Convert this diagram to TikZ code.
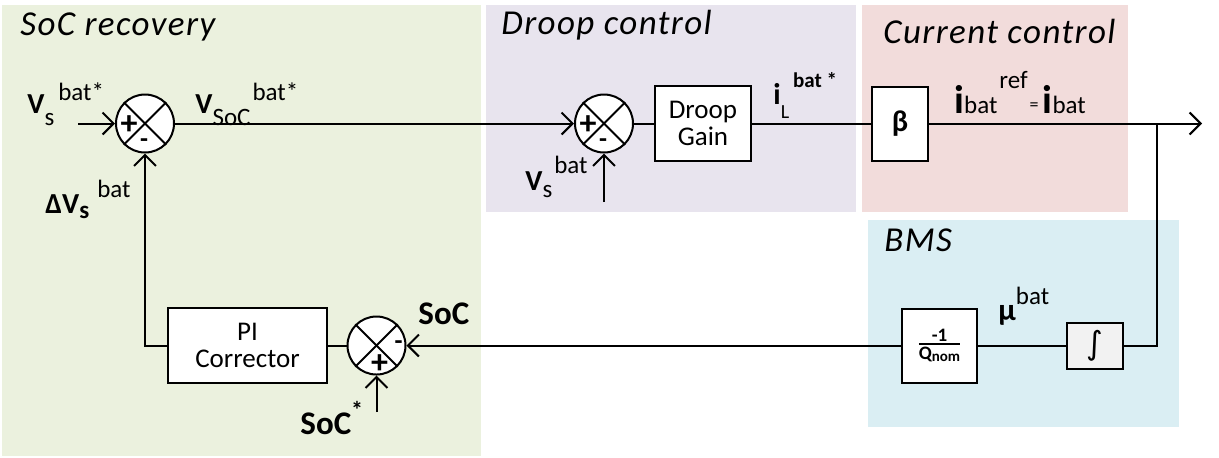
\documentclass[tikz,border=0pt]{standalone}
\usepackage{amsmath}
\usepackage{fontspec}
\setmainfont{Carlito}
\newfontfamily\djv{DejaVu Sans}
\usetikzlibrary{arrows.meta,calc}
\definecolor{gSoC}{HTML}{EBF1DE}
\definecolor{gDroop}{HTML}{E8E4EE}
\definecolor{gCur}{HTML}{F2DCDB}
\definecolor{gBMS}{HTML}{DAEEF3}
\definecolor{gInt}{HTML}{F2F2F2}
\newcommand\fs[1]{\fontsize{#1}{#1}\selectfont}
\newcommand\rb[2]{\raisebox{#1}{#2}}
\begin{document}
\begin{tikzpicture}[x=0.5pt,y=-0.5pt,
  conn/.style={line width=1pt},
  arr/.style={conn,-{Straight Barb[length=5.5pt,width=11pt,line width=1pt]}},
  blk/.style={draw,line width=1pt,fill=white,inner sep=0pt,align=center,font=\fs{13.5}},
  sumj/.style={circle,draw,line width=1pt,fill=white,minimum size=29pt,inner sep=0pt},
  ttl/.style={anchor=base west,inner sep=0pt,font=\fs{17.5}\itshape\addfontfeature{LetterSpace=4}},
  lbl/.style={anchor=base west,inner sep=0pt},
  sgnp/.style={inner sep=0pt,font=\bfseries\fs{17}},
  sgnm/.style={inner sep=0pt,font=\bfseries\fs{13}}
]
\useasboundingbox (0,0) rectangle (1219,457);
% regions
\fill[gSoC] (2,5) rectangle (481,456);
\fill[gDroop] (486,5) rectangle (856,212);
\fill[gCur] (862,5) rectangle (1128,212);
\fill[gBMS] (868,220) rectangle (1179,427);
% titles
\node[ttl] (tSoC) at (20,35) {SoC recovery};
\node[ttl] (tDroop) at (501,34) {Droop control};
\node[ttl] (tCur) at (883,43) {Current control};
\node[ttl] (tBMS) at (884,251) {BMS};
% blocks
\node[sumj] (s1) at (145,123.5) {};
\node[sumj] (s2) at (604,123.5) {};
\node[sumj] (s3) at (376.5,345.5) {};
\foreach \s in {s1,s2,s3}{
  \draw[line width=1pt] (\s.45) -- (\s.225);
  \draw[line width=1pt] (\s.135) -- (\s.315);
}
\node[blk,minimum width=48pt,minimum height=37.5pt] (dg) at (703,123.5) {Droop\\Gain};
\node[blk,minimum width=28pt,minimum height=37pt,font=\fs{15}\bfseries] (beta) at (900,123.5) {β};
\node[blk,minimum width=79.5pt,minimum height=37.5pt] (pi) at (247.5,345.5) {PI\\Corrector};
\node[blk,minimum width=37.5pt,minimum height=37pt,font=\fs{9.5}\bfseries] (qn) at (939.5,345.5)
  {$\genfrac{}{}{1pt}{}{\mbox{\bfseries -1}}{\mbox{\bfseries Q\rb{-1pt}{\fs{7.5}nom}}}$};
\node[blk,fill=gInt,minimum width=28pt,minimum height=23pt,font=\djv\fs{16}] (int) at (1095,345.5) {∫};
% signs
\node[sgnp] (p1) at ($(s1)+(-16,2)$) {+};
\node[sgnm] (m1) at ($(s1)+(-1,20)$) {-};
\node[sgnp] (p2) at ($(s2)+(-16,2)$) {+};
\node[sgnm] (m2) at ($(s2)+(-1,20)$) {-};
\node[sgnm] (m3) at ($(s3)+(22,0)$) {-};
\node[sgnp] (p3) at ($(s3)+(3,19)$) {+};
% coordinates
\coordinate (in1) at (78,123.5);
\coordinate (in2) at (604,202);
\coordinate (in3) at (376.5,412);
\coordinate (j) at (1157,123.5);
\coordinate (out) at (1202,123.5);
% connectors
\draw[arr] (in1) -- (s1.west);
\draw[arr] (s1.east) -- (s2.west);
\draw[arr] (in2) -- (s2.south);
\draw[conn] (s2.east) -- (dg.west);
\draw[conn] (dg.east) -- (beta.west);
\draw[arr] (beta.east) -- (out);
\draw[conn] (j) |- (int.east);
\draw[conn] (int.west) -- (qn.east);
\draw[arr] (qn.west) -- (s3.east);
\draw[arr] (in3) -- (s3.south);
\draw[conn] (s3.west) -- (pi.east);
\draw[arr] (pi.west) -| (s1.south);
% labels
\node[lbl] (lVs) at (27,113) {\fs{14.5}\bfseries V\rb{-6pt}{\mdseries\fs{12.5}s}\hspace{2pt}\rb{6.5pt}{\mdseries\fs{12.5}bat*}};
\node[lbl] (lVsoc) at (195,113) {\fs{14.5}\bfseries V\rb{-6pt}{\mdseries\fs{12.5}SoC}\hspace{1pt}\rb{6.5pt}{\mdseries\fs{12.5}bat*}};
\node[lbl] (lDV) at (45,213) {\fs{14.5}\bfseries ΔV\rb{-2.5pt}{\fs{12.5}s}\hspace{4pt}\rb{8pt}{\mdseries\fs{12.5}bat}};
\node[lbl] (lVs2) at (525,190) {\fs{14.5}\bfseries V\rb{-3.5pt}{\mdseries\fs{12.5}s}\hspace{1pt}\rb{8.5pt}{\mdseries\fs{12.5}bat}};
\node[lbl] (liL) at (773,104) {\fs{15}\bfseries i\rb{-7pt}{\mdseries\fs{10}L}\hspace{2pt}\rb{8.5pt}{\fs{10.5}bat *}};
\node[lbl] (libat) at (954,113) {\fs{20}\bfseries i{\mdseries\fs{12.5}bat}\hspace{1pt}\rb{12.5pt}{\mdseries\fs{12.5}ref}\hspace{1pt}\rb{1.3pt}{\mdseries\fs{9}=}\hspace{2pt}i{\mdseries\fs{12.5}bat}};
\node[lbl] (lmu) at (998,320) {\fs{15.5}\bfseries μ\rb{8pt}{\mdseries\fs{12.5}bat}};
\node[lbl] (lSoC) at (418,324) {\fs{16.5}\bfseries SoC};
\node[lbl] (lSoCs) at (300,434) {\fs{16.5}\bfseries SoC\rb{8pt}{\fs{12}*}};
\end{tikzpicture}
\end{document}
